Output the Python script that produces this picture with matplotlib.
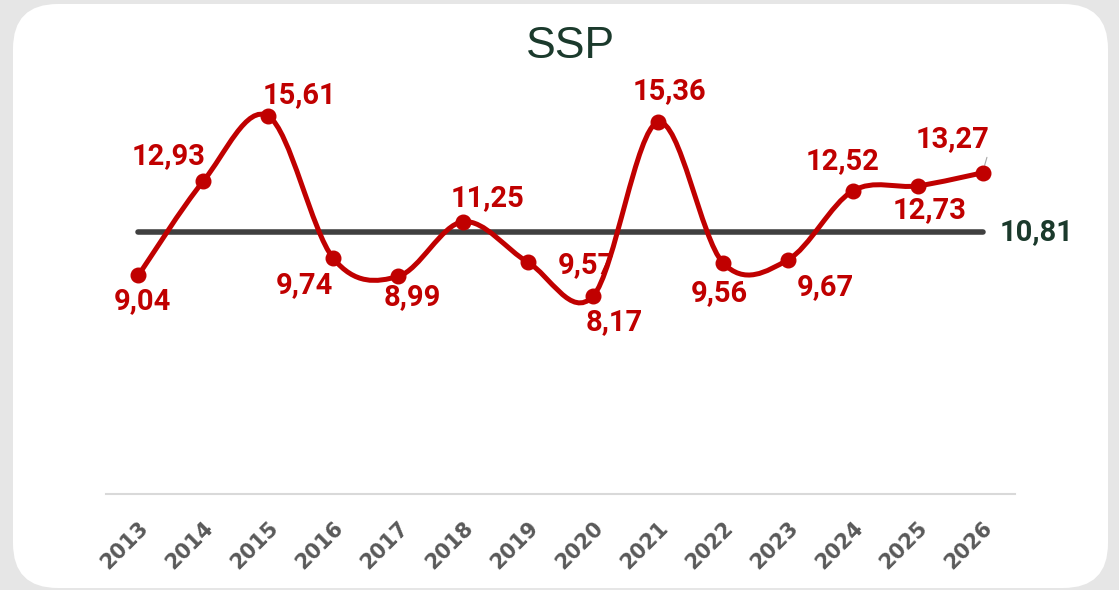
import matplotlib
matplotlib.use("Agg")
import matplotlib.pyplot as plt
from matplotlib.patches import FancyBboxPatch, PathPatch
from matplotlib.path import Path
import numpy as np

# ---------- data ----------
years = ["2013", "2014", "2015", "2016", "2017", "2018", "2019",
         "2020", "2021", "2022", "2023", "2024", "2025", "2026"]
values = [9.04, 12.93, 15.61, 9.74, 8.99, 11.25, 9.57,
          8.17, 15.36, 9.56, 9.67, 12.52, 12.73, 13.27]
average = 10.81

# label offsets in pixels (dx, dy) relative to each point
label_offsets = [(4, -26), (-35, 25), (31, 21), (-29, -27), (14, -21),
                 (24, 24), (58, -3), (21, -26), (12, 31), (-4, -30),
                 (38, -27), (-10, 30), (12, -24), (-30, 34)]

RED = "#C00000"
DARK = "#404040"
GREEN = "#1B3A2C"
LABEL_FONT = ["Roboto", "DejaVu Sans"]

W, H = 1119, 590
fig = plt.figure(figsize=(W / 100, H / 100), dpi=100)
fig.patch.set_facecolor("#E6E6E6")

# white card with rounded corners
card = FancyBboxPatch((13 / W, 2 / H), (1108 - 13) / W, (586 - 2) / H,
                      boxstyle="round,pad=0,rounding_size=0.04",
                      transform=fig.transFigure, facecolor="white",
                      edgecolor="none", mutation_aspect=W / H, zorder=-10)
fig.patches.append(card)

ax = fig.add_axes([106 / W, 1 - 494 / H, (1015 - 106) / W, 0.7384])
ax.set_facecolor("none")
x = np.arange(len(values))
y = np.array(values)
ax.set_xlim(-0.5, len(values) - 0.5)
ax.set_ylim(0, 18)

# smoothed line (Catmull-Rom as cubic Bezier segments)
verts = [(x[0], y[0])]
codes = [Path.MOVETO]
n = len(x)
for i in range(n - 1):
    p0 = np.array([x[max(i - 1, 0)], y[max(i - 1, 0)]])
    p1 = np.array([x[i], y[i]])
    p2 = np.array([x[i + 1], y[i + 1]])
    p3 = np.array([x[min(i + 2, n - 1)], y[min(i + 2, n - 1)]])
    c1 = p1 + (p2 - p0) / 6
    c2 = p2 - (p3 - p1) / 6
    verts += [tuple(c1), tuple(c2), tuple(p2)]
    codes += [Path.CURVE4] * 3
ax.add_patch(PathPatch(Path(verts, codes), facecolor="none", edgecolor=RED,
                       linewidth=3.6, capstyle="round", zorder=4))
ax.plot(x, y, "o", color=RED, markersize=10.5, zorder=5)

# average line
ax.plot([0, n - 1], [average, average], color=DARK, linewidth=4,
        solid_capstyle="round", zorder=3)
ax.annotate(f"{average:.2f}".replace(".", ","), (n - 1, average),
            xytext=(17, 0), textcoords="offset pixels", ha="left",
            va="center", fontsize=21, fontweight="bold", color=GREEN,
            family=LABEL_FONT)

# data labels
for xi, yi, (dx, dy) in zip(x, y, label_offsets):
    ax.annotate(f"{yi:.2f}".replace(".", ","), (xi, yi), xytext=(dx, dy),
                textcoords="offset pixels", ha="center", va="center",
                fontsize=21, fontweight="bold", color=RED, zorder=2,
                family=LABEL_FONT)
# small leader for last label
ax.annotate("", (x[-1] + 0.02, y[-1] + 0.2), xytext=(x[-1] + 0.08, y[-1] + 0.75),
            arrowprops=dict(arrowstyle="-", color="#A6A6A6", lw=0.8))

# axes styling
for s in ["top", "right", "left"]:
    ax.spines[s].set_visible(False)
ax.spines["bottom"].set_color("#D9D9D9")
ax.spines["bottom"].set_linewidth(1.5)
ax.set_yticks([])
ax.set_xticks(x)
ax.set_xticklabels(years, rotation=45, ha="right", rotation_mode="anchor",
                   fontsize=15, fontweight="bold", color="#595959")
ax.tick_params(axis="x", length=0, pad=17)

fig.text(570 / W, 1 - 46 / H, "SSP", ha="center", va="center",
         fontsize=32, color=GREEN, family=["Liberation Sans", "DejaVu Sans"])

fig.savefig("out.png", dpi=100, facecolor=fig.get_facecolor())
